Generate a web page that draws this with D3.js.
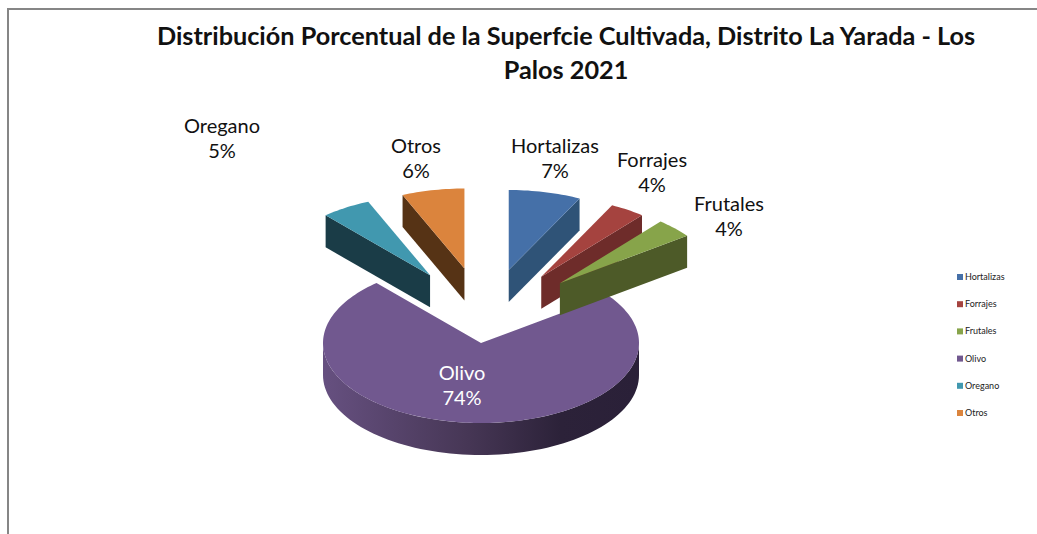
<!DOCTYPE html>
<html>
<head>
<meta charset="utf-8">
<script src="https://cdn.jsdelivr.net/npm/d3@7"></script>
<style>
  html, body { margin: 0; padding: 0; background: #fff; overflow: hidden; }
  text { font-family: Lato, "Open Sans", sans-serif; }
</style>
</head>
<body>
<script>
let categories = ["Hortalizas", "Forrajes", "Frutales", "Olivo", "Oregano", "Otros"];
// shares, the labels show them rounded
let shares = [7.4, 3.6, 3.9, 73.6, 5.1, 6.4];
let titleLines = ["Distribución Porcentual de la Superfcie Cultivada, Distrito La Yarada - Los", "Palos 2021"];

let topColors = ["#4570a8", "#a5433f", "#87a44a", "#71588f", "#4198af", "#db843d"];
let wallColors = ["#2f5377", "#6e2c2a", "#4d5a28", "#2a2038", "#1a3c47", "#563315"];
let labelColors = ["#111", "#111", "#111", "#fff", "#111", "#111"];
let labelX = [555, 652, 729, 462, 222, 416];
let labelY = [146, 160, 204, 373, 126, 146];
let explodeY = [75, 79, 87, 0, 80, 76];

let width = 1037;
let height = 534;
let svg = d3.select("body").append("svg")
                           .attr("width", width)
                           .attr("height", height)
                           .style("display", "block");

let cx = 481, cy = 343;   // apex of the unexploded pie
let rx = 158, ry = 80;    // ellipse of the tilted top face
let depth = 32;
let explodeX = 103, explodeShift = 4;

// frame of the chart
svg.append("path")
   .attr("d", "M8,534V9H1037")
   .attr("fill", "none")
   .attr("stroke", "#868686")
   .attr("stroke-width", 2);

let defs = svg.append("defs");
let grad = defs.append("linearGradient")
               .attr("id", "olivoWall")
               .attr("x1", 0).attr("x2", 1).attr("y1", 0).attr("y2", 0);
grad.append("stop").attr("offset", "0%").attr("stop-color", "#665080");
grad.append("stop").attr("offset", "45%").attr("stop-color", "#473756");
grad.append("stop").attr("offset", "75%").attr("stop-color", "#2c2239");
grad.append("stop").attr("offset", "100%").attr("stop-color", "#2a2038");

let pie = d3.pie().sort(null).value(d => d);
let arcs = pie(shares);
arcs.forEach((a, i) => {
  let mid = (a.startAngle + a.endAngle) / 2;
  a.index = i;
  a.exploded = categories[i] !== "Olivo";
  a.ox = cx + (a.exploded ? explodeShift + explodeX * Math.sin(mid) : 0);
  a.oy = cy - explodeY[i] * Math.cos(mid);
});

function rimX(a, t) { return a.ox + rx * Math.sin(t); }
function rimY(a, t) { return a.oy - ry * Math.cos(t); }

// top face as a path, sampled along the rim
function topFace(a) {
  let steps = Math.max(8, Math.ceil((a.endAngle - a.startAngle) * 40));
  let pts = d3.range(steps + 1).map(k => {
    let t = a.startAngle + (a.endAngle - a.startAngle) * k / steps;
    return [rimX(a, t), rimY(a, t)];
  });
  return "M" + a.ox + "," + a.oy + "L" + pts.map(p => p.join(",")).join("L") + "Z";
}

// the rim wall seen on the front, between two angles
function rimWall(a, t0, t1) {
  let steps = 80;
  let tops = d3.range(steps + 1).map(k => {
    let t = t0 + (t1 - t0) * k / steps;
    return [rimX(a, t), rimY(a, t)];
  });
  let bottoms = tops.slice().reverse().map(p => [p[0], p[1] + depth]);
  return "M" + tops.concat(bottoms).map(p => p.join(",")).join("L") + "Z";
}

// the cut face from apex to rim at angle t
function cutWall(a, t) {
  let x = rimX(a, t), y = rimY(a, t);
  return "M" + a.ox + "," + a.oy + "L" + x + "," + y +
         "L" + x + "," + (y + depth) + "L" + a.ox + "," + (a.oy + depth) + "Z";
}

// olivo goes first, the exploded slices sit on top of it
let order = [3, 4, 5, 0, 1, 2];
let slices = svg.selectAll("g.slice").data(order.map(i => arcs[i])).enter()
                .append("g").attr("class", "slice");

slices.each(function (a) {
  let g = d3.select(this);
  if (!a.exploded) {
    g.append("path")
     .attr("d", rimWall(a, Math.PI / 2, 3 * Math.PI / 2))
     .attr("fill", "url(#olivoWall)");
  } else {
    // right side slices show their end cut, left side ones their start cut
    let t = a.startAngle > Math.PI ? a.startAngle : a.endAngle;
    g.append("path")
     .attr("d", cutWall(a, t))
     .attr("fill", wallColors[a.index]);
  }
  g.append("path")
   .attr("d", topFace(a))
   .attr("fill", topColors[a.index]);
});

// data labels
let labels = svg.selectAll("text.label").data(arcs).enter().append("text")
   .attr("class", "label")
   .attr("text-anchor", "middle")
   .attr("font-size", 20)
   .attr("fill", (d, i) => labelColors[i]);
labels.append("tspan")
      .attr("x", (d, i) => labelX[i])
      .attr("y", (d, i) => labelY[i] + 7)
      .text((d, i) => categories[i]);
labels.append("tspan")
      .attr("x", (d, i) => labelX[i])
      .attr("y", (d, i) => labelY[i] + 32)
      .text(d => Math.round(d.value) + "%");

// title
svg.selectAll("text.title").data(titleLines).enter().append("text")
   .attr("class", "title")
   .attr("x", 566)
   .attr("y", (d, i) => 45 + i * 34)
   .attr("text-anchor", "middle")
   .attr("font-size", 25.25)
   .attr("font-weight", "bold")
   .attr("fill", "#111")
   .text(d => d);

// legend
let legendY = d3.scalePoint().domain(categories).range([277, 413]);
let legend = svg.selectAll("g.legend").data(categories).enter().append("g")
   .attr("class", "legend")
   .attr("transform", d => "translate(957," + legendY(d) + ")");
legend.append("rect")
      .attr("x", 0).attr("y", -3)
      .attr("width", 6).attr("height", 6)
      .attr("fill", (d, i) => topColors[i]);
legend.append("text")
      .attr("x", 8).attr("y", 3)
      .attr("font-size", 9)
      .attr("fill", "#222")
      .text(d => d);
</script>
</body>
</html>
